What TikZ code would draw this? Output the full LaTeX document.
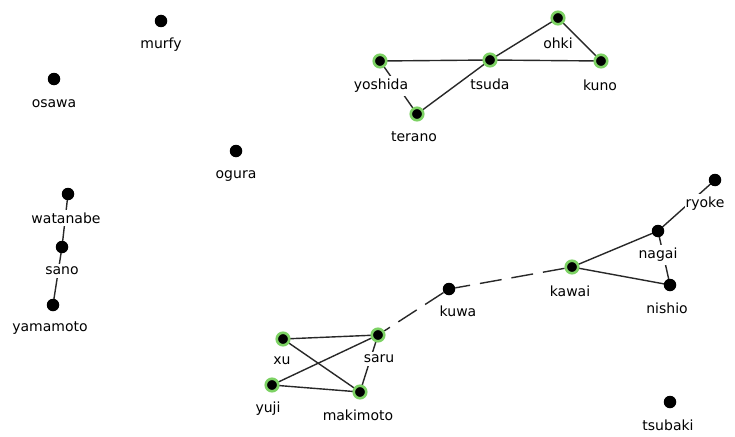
\documentclass[tikz,border=0pt]{standalone}
\usepackage{fontspec}
\setmainfont{DejaVu Sans}
\pgfdeclarelayer{bglayer}
\pgfdeclarelayer{edgelayer}
\pgfdeclarelayer{labellayer}
\pgfsetlayers{bglayer,edgelayer,labellayer,main}
\definecolor{halo}{RGB}{125,210,100}
\definecolor{edgecol}{RGB}{40,40,40}
\tikzset{
  dot/.style={circle,fill=black,inner sep=0pt,minimum size=12.5pt},
  hdot/.style={circle,fill=black,inner sep=0pt,minimum size=12.5pt,draw=halo,line width=2.6pt},
  lab/.style={fill=white,inner xsep=1pt,inner ysep=3pt,font=\fontsize{14}{16}\selectfont},
  link/.style={draw=edgecol,line width=1.4pt},
  dlink/.style={draw=edgecol,line width=1.4pt,dash pattern=on 22pt off 10pt}
}
\begin{document}
\begin{tikzpicture}[x=1pt,y=-1pt]
\useasboundingbox (0,0) rectangle (735,436);
\begin{pgfonlayer}{bglayer}
\fill[white] (0,0) rectangle (735,436);
\end{pgfonlayer}
% dots
\node[dot]  (murfy)    at (161,21) {};
\node[dot]  (osawa)    at (54,79) {};
\node[dot]  (ogura)    at (236,151) {};
\node[dot]  (watanabe) at (68,194) {};
\node[dot]  (sano)     at (62,247) {};
\node[dot]  (yamamoto) at (53,305) {};
\node[hdot] (yoshida)  at (380,61) {};
\node[hdot] (tsuda)    at (490,60) {};
\node[hdot] (ohki)     at (558,18) {};
\node[hdot] (kuno)     at (601,61) {};
\node[hdot] (terano)   at (417,114) {};
\node[dot]  (ryoke)    at (715,180) {};
\node[dot]  (nagai)    at (658,231) {};
\node[hdot] (kawai)    at (572,267) {};
\node[dot]  (nishio)   at (670,285) {};
\node[dot]  (kuwa)     at (449,289) {};
\node[hdot] (xu)       at (283,339) {};
\node[hdot] (saru)     at (378,335) {};
\node[hdot] (yuji)     at (272,385) {};
\node[hdot] (makimoto) at (360,392) {};
\node[dot]  (tsubaki)  at (670,402) {};
% labels
\begin{pgfonlayer}{labellayer}
\node[lab] (murfyL)    at (161,45) {murfy};
\node[lab] (osawaL)    at (54,104) {osawa};
\node[lab] (oguraL)    at (236,176) {ogura};
\node[lab] (watanabeL) at (66,218) {watanabe};
\node[lab] (sanoL)     at (62,271) {sano};
\node[lab] (yamamotoL) at (50,328) {yamamoto};
\node[lab] (yoshidaL)  at (381,86) {yoshida};
\node[lab] (tsudaL)    at (490,84) {tsuda};
\node[lab] (ohkiL)     at (558,43) {ohki};
\node[lab] (kunoL)     at (600,85) {kuno};
\node[lab] (teranoL)   at (414,137) {terano};
\node[lab] (ryokeL)    at (705,204) {ryoke};
\node[lab] (nagaiL)    at (658,255) {nagai};
\node[lab] (kawaiL)    at (570,291) {kawai};
\node[lab] (nishioL)   at (667,308) {nishio};
\node[lab] (kuwaL)     at (458,311) {kuwa};
\node[lab] (xuL)       at (282,361) {xu};
\node[lab] (saruL)     at (379,359) {saru};
\node[lab] (yujiL)     at (268,409) {yuji};
\node[lab] (makimotoL) at (358,415) {makimoto};
\node[lab] (tsubakiL)  at (668,425) {tsubaki};
\end{pgfonlayer}
% edges
\begin{pgfonlayer}{edgelayer}
\draw[link] (yoshida.center) -- (tsuda.center);
\draw[link] (tsuda.center) -- (kuno.center);
\draw[link] (terano.center) -- (tsuda.center);
\draw[link] (tsuda.center) -- (ohki.center);
\draw[link] (ohki.center) -- (kuno.center);
\draw[link] (yoshida.center) -- (terano.center);
\draw[link] (watanabe.center) -- (sano.center);
\draw[link] (sano.center) -- (yamamoto.center);
\draw[link] (ryoke.center) -- (nagai.center);
\draw[link] (nagai.center) -- (kawai.center);
\draw[link] (kawai.center) -- (nishio.center);
\draw[link] (nagai.center) -- (nishio.center);
\draw[dlink] (kawai) -- (kuwa);
\draw[dlink] (kuwa) -- (saru);
\draw[link] (xu.center) -- (saru.center);
\draw[link] (xu.center) -- (makimoto.center);
\draw[link] (yuji.center) -- (saru.center);
\draw[link] (yuji.center) -- (makimoto.center);
\draw[link] (saru.center) -- (makimoto.center);
\end{pgfonlayer}
\end{tikzpicture}
\end{document}
